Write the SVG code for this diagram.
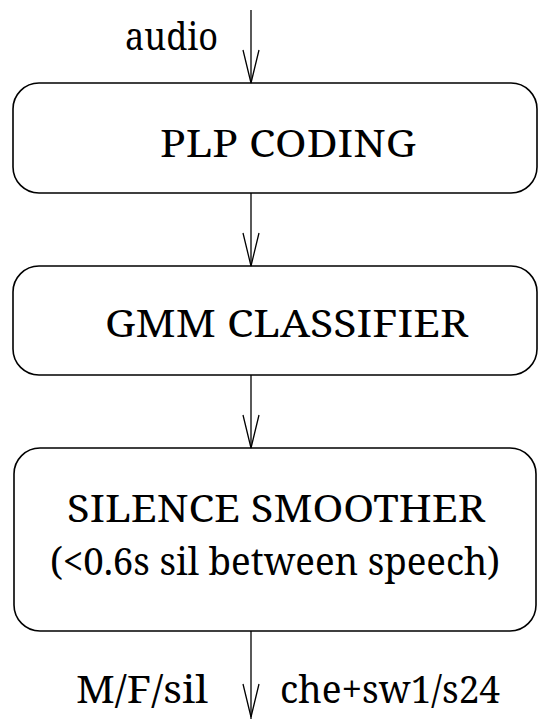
<svg xmlns="http://www.w3.org/2000/svg" width="538" height="719" viewBox="0 0 538 719">
<style>
.box{fill:none;stroke:#000;stroke-width:1.6}
.ln{fill:none;stroke:#000;stroke-width:1.3}
.t{font-family:'Noto Serif','DejaVu Serif',serif;font-size:39px;fill:#000}
</style>
<g id="connectors">
<line class="ln" x1="251" y1="10" x2="251" y2="83"/>
<line class="ln" x1="251" y1="193" x2="251" y2="266"/>
<line class="ln" x1="251" y1="375" x2="251" y2="448"/>
<line class="ln" x1="251" y1="631" x2="251" y2="719"/>
<path class="ln" d="M243,50 L251,83 L259,50 M243,233 L251,266 L259,233 M243,415 L251,448 L259,415 M243,684 L251,717 L259,684"/>
</g>
<g id="audio-label"><text class="t" x="125" y="50" textLength="93" lengthAdjust="spacingAndGlyphs">audio</text></g>
<g id="plp"><rect class="box" x="13" y="83" width="524" height="110" rx="26"/><text class="t" x="160" y="157" textLength="256" lengthAdjust="spacingAndGlyphs">PLP CODING</text></g>
<g id="gmm"><rect class="box" x="13" y="266" width="524" height="109" rx="26"/><text class="t" x="105" y="337" textLength="363" lengthAdjust="spacingAndGlyphs">GMM CLASSIFIER</text></g>
<g id="smoother"><rect class="box" x="14" y="448" width="522" height="183" rx="26"/><text class="t" x="67" y="522" textLength="418" lengthAdjust="spacingAndGlyphs">SILENCE SMOOTHER</text><text class="t" x="50" y="575" textLength="450" lengthAdjust="spacingAndGlyphs">(&lt;0.6s sil between speech)</text></g>
<g id="out-labels"><text class="t" x="76" y="703" textLength="132" lengthAdjust="spacingAndGlyphs">M/F/sil</text><text class="t" x="280" y="703" textLength="220" lengthAdjust="spacingAndGlyphs">che+sw1/s24</text></g>
</svg>
